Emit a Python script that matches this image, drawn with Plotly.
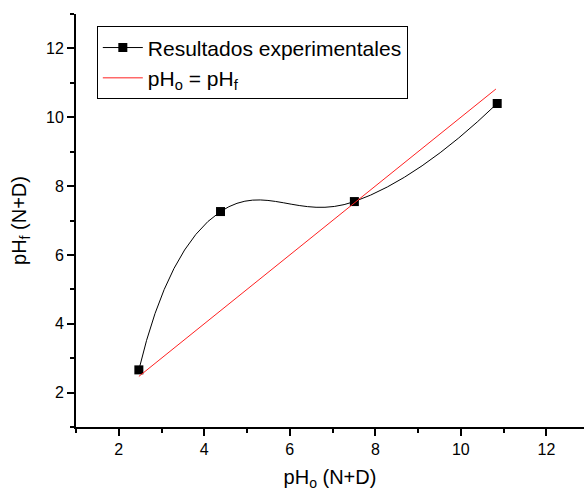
import plotly.graph_objects as go

ph_o = [2.47, 4.38, 7.51, 10.85]
ph_f = [2.66, 7.26, 7.55, 10.40]
ident_x = [2.47, 10.82]
ident_y = [2.47, 10.82]

font = "Liberation Sans, Arial, sans-serif"

fig = go.Figure()
fig.add_trace(go.Scatter(
    x=ph_o, y=ph_f, mode="lines+markers", name="Resultados experimentales",
    line=dict(color="black", width=1, shape="spline", smoothing=1.3),
    marker=dict(symbol="square", size=9, color="black"),
))
fig.add_trace(go.Scatter(
    x=ident_x, y=ident_y, mode="lines", name="pH<sub>o</sub> = pH<sub>f</sub>",
    line=dict(color="#ff2020", width=1),
))

axis_common = dict(
    showline=True, linecolor="black", linewidth=2, mirror=False,
    showgrid=False, zeroline=False,
    ticks="outside", ticklen=7, tickwidth=1.5, tickcolor="black",
    dtick=2, tick0=0,
    minor=dict(ticks="outside", ticklen=4, tickwidth=1.5, tickcolor="black", dtick=1, tick0=1),
    tickfont=dict(family=font, size=16, color="black"),
)

fig.update_layout(
    width=584, height=491,
    margin=dict(l=76, r=0, t=14, b=64),
    paper_bgcolor="white", plot_bgcolor="white",
    font=dict(family=font, color="black"),
    xaxis=dict(range=[1, 12.88], title=dict(text="pH<sub>o</sub> (N+D)", font=dict(size=20), standoff=14), **axis_common),
    yaxis=dict(range=[1, 13], title=dict(text="pH<sub>f</sub> (N+D)", font=dict(size=20), standoff=14), **axis_common),
    showlegend=True,
    legend=dict(
        x=0.041, y=0.97, xanchor="left", yanchor="top",
        bordercolor="black", borderwidth=1, bgcolor="white",
        font=dict(family=font, size=21, color="black"),
        tracegroupgap=0, itemwidth=40,
    ),
)

fig.write_html("out.html")
